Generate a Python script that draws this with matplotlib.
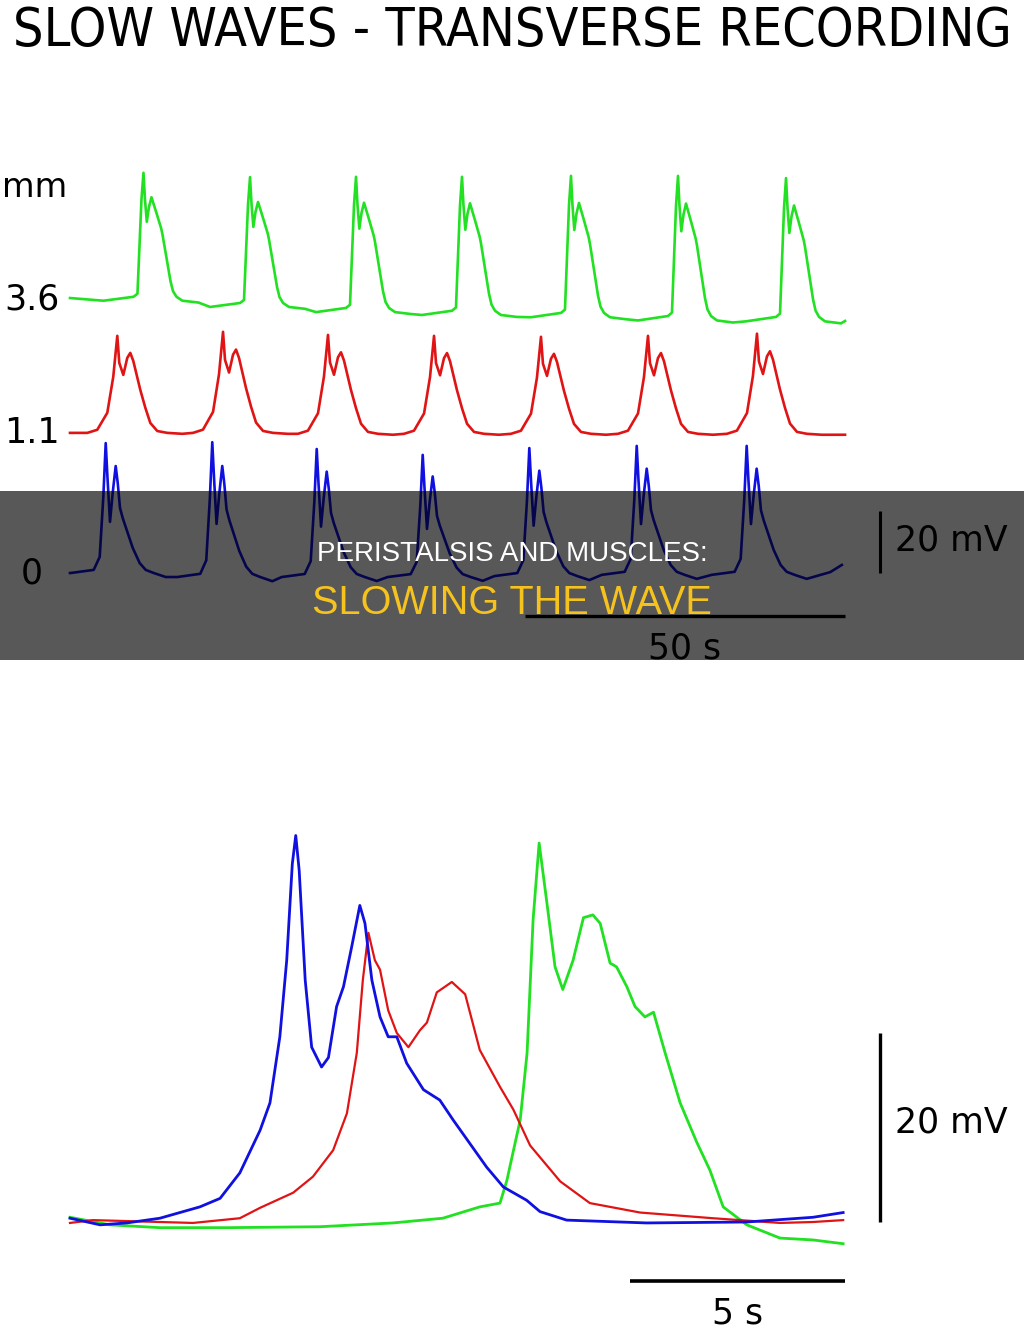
import numpy as np
import matplotlib
matplotlib.use("Agg")
import matplotlib.pyplot as plt
from matplotlib.patches import Rectangle

# ---- top panel: transverse recording at 3 positions (mm) ----
# one slow-wave shape per trace: time from spike peak (s), mV above baseline
green_tpl_t = np.array([-6.25, -1.56, -0.94, -0.63, -0.31, 0, 0.23, 0.52, 0.86, 1.25,
                        2.03, 2.77, 2.97, 3.59, 4.22, 4.61, 5.16, 6.09, 8.59])
green_tpl_v = np.array([-1.3, 0, 1.0, 16.1, 32.3, 41.0, 32.3, 24.8, 29.7, 32.9,
                        27.7, 22.6, 20.6, 12.9, 5.2, 1.9, 0, -1.3, -1.9])
red_tpl_t = np.array([-4.69, -3.13, -1.56, -0.63, 0, 0.31, 0.94, 1.56, 2.03, 2.5,
                      3.59, 4.38, 5.16, 6.25, 7.81, 10.16])
red_tpl_v = np.array([0, 1.0, 6.5, 18.1, 31.3, 22.6, 18.7, 24.2, 25.8, 23.2,
                      13.9, 8.1, 3.2, 0.6, 0, -0.3])
blue_tpl_t = np.array([-5.47, -1.88, -0.94, -0.375, 0, 0.28, 0.67, 1.09, 1.56, 1.88,
                       2.23, 2.66, 3.28, 4.22, 5.31, 6.25, 7.5, 9.38])
blue_tpl_v = np.array([0, 1.0, 5.2, 24.5, 41.9, 30.6, 16.5, 25.8, 34.5, 29.0,
                       21.0, 17.7, 13.9, 8.1, 3.2, 1.0, 0, -1.3])

# per cycle: spike time (s), spike amplitude (mV), baseline (mV)
green_peaks = [11.48, 28.13, 44.69, 61.25, 78.28, 95.0, 111.88]
green_amps = [40.0, 40.6, 42.3, 43.2, 44.2, 45.2, 44.8]
green_base = [1.0, -1.0, -2.6, -3.5, -4.2, -5.2, -5.5]
green_ends = [(0, 0.6), (121.1, -6.8)]

red_peaks = [7.39, 23.91, 40.31, 56.88, 73.59, 90.31, 107.34]
red_amps = [31.3, 32.6, 31.9, 31.6, 31.3, 31.6, 32.3]
red_base = [0, 0, -0.3, -0.3, -0.3, -0.3, -0.3]
red_ends = [(0, 0), (121.1, -0.6)]

blue_peaks = [5.58, 22.23, 38.55, 55.11, 71.77, 88.55, 105.73]
blue_amps = [41.9, 43.5, 41.3, 39.4, 41.3, 41.6, 41.6]
blue_base = [0, -1.3, -1.3, -1.3, -1.0, -0.6, -0.6]
blue_ends = [(0, 0), (118.8, 0.3), (120.6, 2.6)]

depth_labels = ["3.6", "1.1", "0"]
trace_offsets = [88.1, 45.2, 0.0]   # vertical spacing of the three traces (mV)

# ---- bottom panel: one cycle, expanded time scale ----
blue_t = [0, 0.70, 1.32, 2.09, 3.02, 3.49, 3.95, 4.42, 4.65, 4.88, 5.04, 5.17, 5.25, 5.33,
          5.47, 5.62, 5.85, 6.01, 6.20, 6.36, 6.55, 6.74, 6.86, 7.02, 7.21, 7.40, 7.60,
          7.83, 8.22, 8.60, 8.91, 9.30, 9.69, 10.08, 10.62, 10.93, 11.55, 13.41, 15.74,
          17.28, 17.98]
blue_v = [0.4, -0.3, -0.1, 0.4, 1.6, 2.5, 5.2, 9.7, 12.6, 19.6, 27.7, 37.9, 40.9, 37.2,
          25.6, 18.5, 16.4, 17.4, 22.8, 24.9, 29.1, 33.5, 31.6, 25.6, 21.7, 19.6, 19.6,
          16.8, 14.0, 12.9, 10.8, 8.3, 5.8, 3.7, 2.3, 1.1, 0.2, -0.1, 0.0, 0.5, 1.0]
red_t = [0, 0.53, 2.09, 2.86, 3.95, 4.42, 5.19, 5.65, 6.12, 6.44, 6.67, 6.81, 6.94, 7.09,
         7.21, 7.40, 7.60, 7.87, 8.14, 8.30, 8.53, 8.88, 9.19, 9.53, 10.0, 10.31, 10.70,
         11.40, 12.09, 13.26, 14.95, 16.51, 17.28, 17.98]
red_v = [-0.1, 0.2, 0.0, -0.1, 0.4, 1.5, 3.1, 4.8, 7.6, 11.5, 17.9, 25.6, 30.6, 27.7,
         26.7, 22.4, 20.0, 18.5, 20.3, 21.1, 24.3, 25.4, 24.1, 18.2, 14.3, 11.9, 8.1,
         4.3, 2.0, 1.0, 0.4, -0.1, 0.0, 0.2]
green_t = [0, 0.93, 2.09, 3.65, 5.81, 7.51, 8.67, 9.53, 10.0, 10.16, 10.30, 10.47, 10.63,
           10.77, 10.91, 11.09, 11.28, 11.46, 11.70, 11.94, 12.16, 12.33, 12.56, 12.71,
           12.95, 13.14, 13.37, 13.57, 13.84, 14.19, 14.57, 14.88, 15.19, 15.74, 16.51,
           17.28, 17.98]
green_v = [0.5, -0.3, -0.6, -0.6, -0.5, -0.1, 0.4, 1.6, 2.0, 4.4, 7.3, 10.8, 17.9, 32.0,
           40.1, 33.8, 27.0, 24.6, 27.7, 32.2, 32.5, 31.6, 27.4, 27.0, 24.9, 22.8, 21.7,
           22.2, 17.9, 12.6, 8.5, 5.5, 1.6, -0.3, -1.7, -1.9, -2.3]

GREEN, RED, BLUE = "#22e022", "#e01414", "#1010e0"


def build_trace(peaks, amps, bases, tpl_t, tpl_v, ends):
    t = [ends[0][0]]
    v = [ends[0][1]]
    for p, a, b in zip(peaks, amps, bases):
        t.extend(p + tpl_t)
        v.extend(b + tpl_v * a / tpl_v.max())
    for et, ev in ends[1:]:
        t.append(et)
        v.append(ev)
    return np.array(t), np.array(v)


fig = plt.figure(figsize=(10.24, 13.38), dpi=100)
H = 1338.0

fig.text(0.5, 1 - 31 / H, "SLOW WAVES - TRANSVERSE RECORDING", ha="center", va="center",
         fontsize=38.5, family="DejaVu Sans", fontstretch="condensed", color="black")

# top axes: 6.4 px per s, 3.1 px per mV
ax = fig.add_axes([0, 1 - 680 / H, 1, 530 / H])
ax.set_xlim(-70 / 6.4, 954 / 6.4)
ax.set_ylim(-107 / 3.1, 423 / 3.1)
ax.axis("off")

traces = [
    (build_trace(green_peaks, green_amps, green_base, green_tpl_t, green_tpl_v, green_ends), GREEN),
    (build_trace(red_peaks, red_amps, red_base, red_tpl_t, red_tpl_v, red_ends), RED),
    (build_trace(blue_peaks, blue_amps, blue_base, blue_tpl_t, blue_tpl_v, blue_ends), BLUE),
]
for ((t, v), col), off, lab in zip(traces, trace_offsets, depth_labels):
    ax.plot(t, v + off, color=col, lw=1.9, solid_joinstyle="round")
    ax.text(-5.9, off, lab, ha="center", va="center", fontsize=25, family="DejaVu Sans")
ax.text(-10.6, 124.5, "mm", ha="left", va="center", fontsize=24, family="DejaVu Sans")

# scale bars (50 s, 20 mV)
ax.plot([71.1, 71.1 + 50], [-13.9, -13.9], color="black", lw=2.4, solid_capstyle="butt")
ax.plot([126.6, 126.6], [0, 20], color="black", lw=2.2, solid_capstyle="butt")
ax.text(71.1 + 25, -24.5, "50 s", ha="center", va="center", fontsize=25, family="DejaVu Sans")
ax.text(128.9, 10.6, "20 mV", ha="left", va="center", fontsize=25, family="DejaVu Sans")

# bottom axes: 43 px per s, 9.45 px per mV
bx = fig.add_axes([0, 0, 1, 538 / H])
bx.set_xlim(-70 / 43, 954 / 43)
bx.set_ylim(-116 / 9.45, 422 / 9.45)
bx.axis("off")
bx.plot(green_t, green_v, color=GREEN, lw=2.0)
bx.plot(red_t, red_v, color=RED, lw=1.6)
bx.plot(blue_t, blue_v, color=BLUE, lw=2.0)

bx.plot([13.02, 13.02 + 5], [-6.24, -6.24], color="black", lw=2.6, solid_capstyle="butt")
bx.plot([18.84, 18.84], [0, 20], color="black", lw=2.4, solid_capstyle="butt")
bx.text(13.02 + 2.5, -9.63, "5 s", ha="center", va="center", fontsize=25, family="DejaVu Sans")
bx.text(19.19, 10.58, "20 mV", ha="left", va="center", fontsize=25, family="DejaVu Sans")

# translucent caption banner
fig.add_artist(Rectangle((0, 1 - 660 / H), 1, 169 / H, transform=fig.transFigure,
                         facecolor="black", edgecolor="none", alpha=0.655, zorder=10))
fig.text(0.5, 1 - 554 / H, "PERISTALSIS AND MUSCLES:", ha="center", va="center",
         fontsize=20, family="Liberation Sans", color="white", zorder=11)
fig.text(0.5, 1 - 603 / H, "SLOWING THE WAVE", ha="center", va="center",
         fontsize=28.5, family="Liberation Sans", color="#f6c21e", zorder=11)

fig.savefig("out.png", dpi=100, facecolor="white")
